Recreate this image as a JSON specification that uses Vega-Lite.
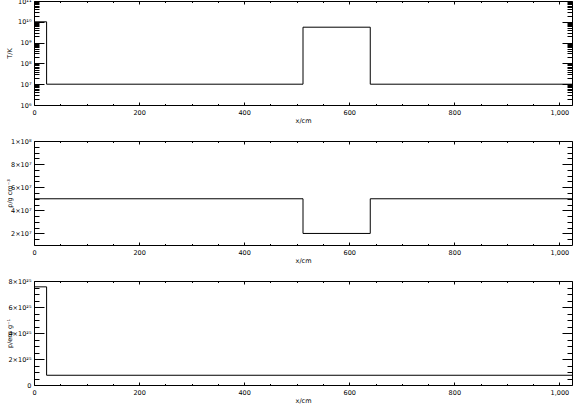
{
  "$schema": "https://vega.github.io/schema/vega-lite/v6.json",
  "padding": {"left": 6, "top": -2, "right": 0, "bottom": 0},
  "background": "white",
  "spacing": 36,
  "bounds": "flush",
  "config": {
    "view": {"stroke": null},
    "axis": {
      "grid": false,
      "labelFont": "DejaVu Sans",
      "titleFont": "DejaVu Sans",
      "labelFontSize": 6.5,
      "titleFontSize": 6.5,
      "titleFontWeight": "normal",
      "labelColor": "black",
      "titleColor": "black",
      "domainColor": "black",
      "tickColor": "black",
      "domainWidth": 1,
      "tickWidth": 1,
      "labelOverlap": false,
      "labelFlush": false
    },
    "axisX": {"labelPadding": 7},
    "axisY": {"labelPadding": 13}
  },
  "datasets": {
    "T": [
      {"x": 0, "v": 1e10},
      {"x": 24, "v": 1e7},
      {"x": 512, "v": 5.5e9},
      {"x": 640, "v": 1e7},
      {"x": 1024, "v": 1e7}
    ],
    "rho": [
      {"x": 0, "v": 5e7},
      {"x": 512, "v": 2e7},
      {"x": 640, "v": 5e7},
      {"x": 1024, "v": 5e7}
    ],
    "p": [
      {"x": 0, "v": 7.55e25},
      {"x": 24, "v": 7.5e24},
      {"x": 1024, "v": 7.5e24}
    ]
  },
  "vconcat": [
    {
      "width": 538,
      "height": 104,
      "data": {"name": "T"},
      "layer": [
        {
          "mark": {"type": "line", "interpolate": "step-after", "color": "black", "strokeWidth": 1, "clip": true},
          "encoding": {
            "x": {"field": "x", "type": "quantitative", "scale": {"domain": [0, 1024], "nice": false, "zero": false},
                  "axis": {"orient": "bottom", "values": [0, 200, 400, 600, 800, 1000], "tickSize": -3, "title": "x/cm", "titleX": 269, "titleY": 15, "titleBaseline": "middle"}},
            "y": {"field": "v", "type": "quantitative", "scale": {"type": "log", "domain": [1e6, 1e11], "nice": false},
                  "axis": {"orient": "left", "values": [1e6, 1e7, 1e8, 1e9, 1e10, 1e11], "tickSize": -10, "title": "T/K", "titleX": -25, "titleY": 52, "titleAngle": -90, "titleBaseline": "middle",
                           "labelExpr": "'10' + (round(log(datum.value)/LN10) == 6 ? '⁶' : round(log(datum.value)/LN10) == 7 ? '⁷' : round(log(datum.value)/LN10) == 8 ? '⁸' : round(log(datum.value)/LN10) == 9 ? '⁹' : round(log(datum.value)/LN10) == 10 ? '¹⁰' : '¹¹')"}}
          }
        },
        {
          "mark": {"type": "line", "opacity": 0},
          "encoding": {
            "x": {"field": "x", "type": "quantitative", "axis": {"orient": "bottom", "values": [50, 100, 150, 250, 300, 350, 450, 500, 550, 650, 700, 750, 850, 900, 950], "tickSize": -1.5, "labels": false, "domain": false, "title": null}},
            "y": {"field": "v", "type": "quantitative", "axis": {"orient": "left", "values": [2e6,3e6,4e6,5e6,6e6,7e6,8e6,9e6,2e7,3e7,4e7,5e7,6e7,7e7,8e7,9e7,2e8,3e8,4e8,5e8,6e8,7e8,8e8,9e8,2e9,3e9,4e9,5e9,6e9,7e9,8e9,9e9,2e10,3e10,4e10,5e10,6e10,7e10,8e10,9e10], "tickSize": -5, "labels": false, "domain": false, "title": null}}
          }
        },
        {
          "mark": {"type": "line", "opacity": 0},
          "encoding": {
            "x": {"field": "x", "type": "quantitative", "axis": {"orient": "top", "values": [0, 200, 400, 600, 800, 1000], "tickSize": -3, "labels": false, "title": null}},
            "y": {"field": "v", "type": "quantitative", "axis": {"orient": "right", "values": [1e6, 1e7, 1e8, 1e9, 1e10, 1e11], "tickSize": -10, "labels": false, "title": null}}
          }
        },
        {
          "mark": {"type": "line", "opacity": 0},
          "encoding": {
            "x": {"field": "x", "type": "quantitative", "axis": {"orient": "top", "values": [50, 100, 150, 250, 300, 350, 450, 500, 550, 650, 700, 750, 850, 900, 950], "tickSize": -1.5, "labels": false, "domain": false, "title": null}},
            "y": {"field": "v", "type": "quantitative", "axis": {"orient": "right", "values": [2e6,3e6,4e6,5e6,6e6,7e6,8e6,9e6,2e7,3e7,4e7,5e7,6e7,7e7,8e7,9e7,2e8,3e8,4e8,5e8,6e8,7e8,8e8,9e8,2e9,3e9,4e9,5e9,6e9,7e9,8e9,9e9,2e10,3e10,4e10,5e10,6e10,7e10,8e10,9e10], "tickSize": -5, "labels": false, "domain": false, "title": null}}
          }
        }
      ],
      "resolve": {"axis": {"x": "independent", "y": "independent"}}
    },
    {
      "width": 538,
      "height": 104,
      "data": {"name": "rho"},
      "layer": [
        {
          "mark": {"type": "line", "interpolate": "step-after", "color": "black", "strokeWidth": 1, "clip": true},
          "encoding": {
            "x": {"field": "x", "type": "quantitative", "scale": {"domain": [0, 1024], "nice": false, "zero": false},
                  "axis": {"orient": "bottom", "values": [0, 200, 400, 600, 800, 1000], "tickSize": -3, "title": "x/cm", "titleX": 269, "titleY": 15, "titleBaseline": "middle"}},
            "y": {"field": "v", "type": "quantitative", "scale": {"domain": [1e7, 1e8], "nice": false, "zero": false},
                  "axis": {"orient": "left", "values": [2e7, 4e7, 6e7, 8e7, 1e8], "tickSize": -10, "title": "ρ/g cm⁻³", "titleX": -25, "titleY": 52, "titleAngle": -90, "titleBaseline": "middle",
                           "labelExpr": "datum.value == 1e8 ? '1×10⁸' : format(datum.value/1e7, 'd') + '×10⁷'"}}
          }
        },
        {
          "mark": {"type": "line", "opacity": 0},
          "encoding": {
            "x": {"field": "x", "type": "quantitative", "axis": {"orient": "bottom", "values": [50, 100, 150, 250, 300, 350, 450, 500, 550, 650, 700, 750, 850, 900, 950], "tickSize": -1.5, "labels": false, "domain": false, "title": null}},
            "y": {"field": "v", "type": "quantitative", "axis": {"orient": "left", "values": [1.5e7, 2.5e7, 3e7, 3.5e7, 4.5e7, 5e7, 5.5e7, 6.5e7, 7e7, 7.5e7, 8.5e7, 9e7, 9.5e7], "tickSize": -5, "labels": false, "domain": false, "title": null}}
          }
        },
        {
          "mark": {"type": "line", "opacity": 0},
          "encoding": {
            "x": {"field": "x", "type": "quantitative", "axis": {"orient": "top", "values": [0, 200, 400, 600, 800, 1000], "tickSize": -3, "labels": false, "title": null}},
            "y": {"field": "v", "type": "quantitative", "axis": {"orient": "right", "values": [2e7, 4e7, 6e7, 8e7, 1e8], "tickSize": -10, "labels": false, "title": null}}
          }
        },
        {
          "mark": {"type": "line", "opacity": 0},
          "encoding": {
            "x": {"field": "x", "type": "quantitative", "axis": {"orient": "top", "values": [50, 100, 150, 250, 300, 350, 450, 500, 550, 650, 700, 750, 850, 900, 950], "tickSize": -1.5, "labels": false, "domain": false, "title": null}},
            "y": {"field": "v", "type": "quantitative", "axis": {"orient": "right", "values": [1.5e7, 2.5e7, 3e7, 3.5e7, 4.5e7, 5e7, 5.5e7, 6.5e7, 7e7, 7.5e7, 8.5e7, 9e7, 9.5e7], "tickSize": -5, "labels": false, "domain": false, "title": null}}
          }
        }
      ],
      "resolve": {"axis": {"x": "independent", "y": "independent"}}
    },
    {
      "width": 538,
      "height": 104,
      "data": {"name": "p"},
      "layer": [
        {
          "mark": {"type": "line", "interpolate": "step-after", "color": "black", "strokeWidth": 1, "clip": true},
          "encoding": {
            "x": {"field": "x", "type": "quantitative", "scale": {"domain": [0, 1024], "nice": false, "zero": false},
                  "axis": {"orient": "bottom", "values": [0, 200, 400, 600, 800, 1000], "tickSize": -3, "title": "x/cm", "titleX": 269, "titleY": 15, "titleBaseline": "middle"}},
            "y": {"field": "v", "type": "quantitative", "scale": {"domain": [0, 8e25], "nice": false},
                  "axis": {"orient": "left", "values": [0, 2e25, 4e25, 6e25, 8e25], "tickSize": -10, "title": "p/erg g⁻¹", "titleX": -25, "titleY": 52, "titleAngle": -90, "titleBaseline": "middle",
                           "labelExpr": "datum.value == 0 ? '0' : format(datum.value/1e25, 'd') + '×10²⁵'"}}
          }
        },
        {
          "mark": {"type": "line", "opacity": 0},
          "encoding": {
            "x": {"field": "x", "type": "quantitative", "axis": {"orient": "bottom", "values": [50, 100, 150, 250, 300, 350, 450, 500, 550, 650, 700, 750, 850, 900, 950], "tickSize": -1.5, "labels": false, "domain": false, "title": null}},
            "y": {"field": "v", "type": "quantitative", "axis": {"orient": "left", "values": [0.5e25, 1e25, 1.5e25, 2.5e25, 3e25, 3.5e25, 4.5e25, 5e25, 5.5e25, 6.5e25, 7e25, 7.5e25], "tickSize": -5, "labels": false, "domain": false, "title": null}}
          }
        },
        {
          "mark": {"type": "line", "opacity": 0},
          "encoding": {
            "x": {"field": "x", "type": "quantitative", "axis": {"orient": "top", "values": [0, 200, 400, 600, 800, 1000], "tickSize": -3, "labels": false, "title": null}},
            "y": {"field": "v", "type": "quantitative", "axis": {"orient": "right", "values": [0, 2e25, 4e25, 6e25, 8e25], "tickSize": -10, "labels": false, "title": null}}
          }
        },
        {
          "mark": {"type": "line", "opacity": 0},
          "encoding": {
            "x": {"field": "x", "type": "quantitative", "axis": {"orient": "top", "values": [50, 100, 150, 250, 300, 350, 450, 500, 550, 650, 700, 750, 850, 900, 950], "tickSize": -1.5, "labels": false, "domain": false, "title": null}},
            "y": {"field": "v", "type": "quantitative", "axis": {"orient": "right", "values": [0.5e25, 1e25, 1.5e25, 2.5e25, 3e25, 3.5e25, 4.5e25, 5e25, 5.5e25, 6.5e25, 7e25, 7.5e25], "tickSize": -5, "labels": false, "domain": false, "title": null}}
          }
        }
      ],
      "resolve": {"axis": {"x": "independent", "y": "independent"}}
    }
  ]
}
